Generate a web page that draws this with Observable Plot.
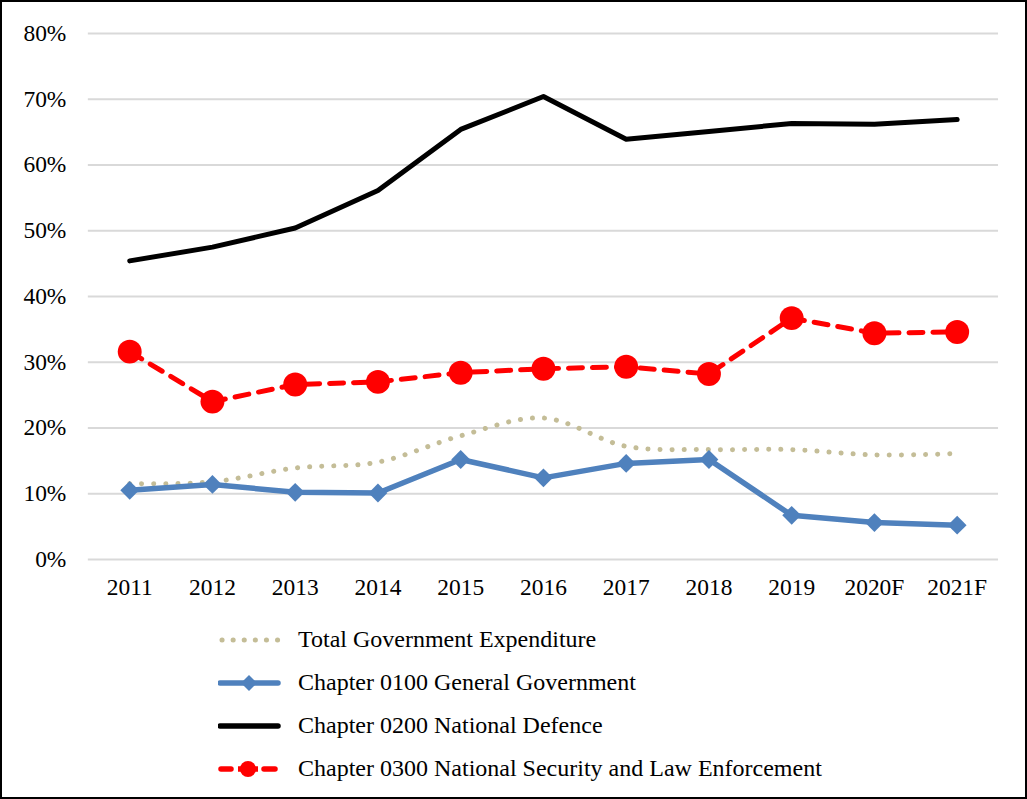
<!DOCTYPE html>
<html>
<head>
<meta charset="utf-8">
<script src="https://cdn.jsdelivr.net/npm/d3@7"></script>
<script src="https://cdn.jsdelivr.net/npm/@observablehq/plot@0.6"></script>
<style>
  html, body { margin: 0; padding: 0; background: #fff; }
  #frame { position: relative; width: 1027px; height: 799px; box-sizing: border-box; border: 2px solid #000; overflow: hidden; font-family: "Liberation Serif", "Times New Roman", serif; }
  #chart { position: absolute; left: -2px; top: -2px; }
  #legend { position: absolute; left: 216px; top: 616px; }
  .row { display: flex; align-items: center; height: 43px; font-size: 24px; color: #000; white-space: nowrap; }
  .row svg { width: 80px; height: 24px; flex: none; }
</style>
</head>
<body>
<div id="frame"><div id="chart"></div><div id="legend"></div></div>
<script>
const years = ["2011","2012","2013","2014","2015","2016","2017","2018","2019","2020F","2021F"];
const yTicks = [0,10,20,30,40,50,60,70,80];
const seriesNames = [
  "Total Government Expenditure",
  "Chapter 0100 General Government",
  "Chapter 0200 National Defence",
  "Chapter 0300 National Security and Law Enforcement"
];
const total    = [11.5, 11.8, 13.9, 14.8, 18.8, 21.5, 17.2, 16.7, 16.7, 15.9, 16.1];
const general  = [10.5, 11.4, 10.2, 10.1, 15.2, 12.4, 14.6, 15.2, 6.7, 5.6, 5.2];
const defence  = [45.4, 47.5, 50.4, 56.1, 65.4, 70.4, 63.9, 65.1, 66.3, 66.2, 66.9];
const security = [31.6, 24.0, 26.6, 27.0, 28.4, 29.0, 29.3, 28.2, 36.7, 34.4, 34.6];

const colors = ["#c4bd97", "#4f81bd", "#000000", "#ff0000"];

const rows = (vals) => years.map((y, i) => ({year: y, value: vals[i]}));
const tData = rows(total), gData = rows(general), dData = rows(defence), sData = rows(security);

const chart = Plot.plot({
  width: 1027,
  height: 610,
  marginLeft: 88,
  marginRight: 27,
  marginTop: 33,
  marginBottom: 50,
  style: {fontFamily: "Liberation Serif, Times New Roman, serif", fontSize: "23.5px", color: "#000", background: "transparent"},
  x: {domain: years, type: "point", padding: 0.5, round: false, label: null, tickSize: 0, tickPadding: 19},
  y: {domain: [0, 80], ticks: yTicks, label: null, tickSize: 0, tickPadding: 22, tickFormat: d => d + "%"},
  marks: [
    Plot.gridY(yTicks, {stroke: "#d9d9d9", strokeOpacity: 1, strokeWidth: 2}),
    Plot.line(tData, {x: "year", y: "value", stroke: colors[0], strokeWidth: 5, strokeDasharray: "0.1 12", strokeLinecap: "round", curve: "catmull-rom"}),
    Plot.line(gData, {x: "year", y: "value", stroke: colors[1], strokeWidth: 5.5, strokeLinejoin: "round"}),
    Plot.dot(gData, {x: "year", y: "value", symbol: "diamond2", r: 8.5, fill: colors[1], stroke: "none"}),
    Plot.line(dData, {x: "year", y: "value", stroke: colors[2], strokeWidth: 5, strokeLinecap: "round"}),
    Plot.line(sData, {x: "year", y: "value", stroke: colors[3], strokeWidth: 5, strokeDasharray: "14 10", strokeLinecap: "round"}),
    Plot.dot(sData, {x: "year", y: "value", r: 12, fill: colors[3], stroke: "none"})
  ]
});
document.getElementById("chart").appendChild(chart);

// Legend (HTML with small swatches)
const swatches = [
  `<line x1="4" y1="12" x2="60" y2="12" stroke="${colors[0]}" stroke-width="5" stroke-dasharray="0.1 11" stroke-linecap="round"/>`,
  `<line x1="2" y1="12" x2="60" y2="12" stroke="${colors[1]}" stroke-width="5.5" stroke-linecap="round"/><path d="M31 4 L39 12 L31 20 L23 12 Z" fill="${colors[1]}"/>`,
  `<line x1="2" y1="12" x2="60" y2="12" stroke="${colors[2]}" stroke-width="5.5" stroke-linecap="round"/>`,
  `<line x1="3" y1="12" x2="13" y2="12" stroke="${colors[3]}" stroke-width="5.5" stroke-linecap="round"/><line x1="46" y1="12" x2="57" y2="12" stroke="${colors[3]}" stroke-width="5.5" stroke-linecap="round"/><line x1="20" y1="12" x2="40" y2="12" stroke="${colors[3]}" stroke-width="5.5"/><circle cx="30" cy="12" r="8" fill="${colors[3]}"/>`
];
const legend = document.getElementById("legend");
seriesNames.forEach((name, i) => {
  const row = document.createElement("div");
  row.className = "row";
  row.innerHTML = `<svg viewBox="0 0 80 24" style="width:80px;height:24px">${swatches[i]}</svg><span>${name}</span>`;
  legend.appendChild(row);
});
</script>
</body>
</html>
